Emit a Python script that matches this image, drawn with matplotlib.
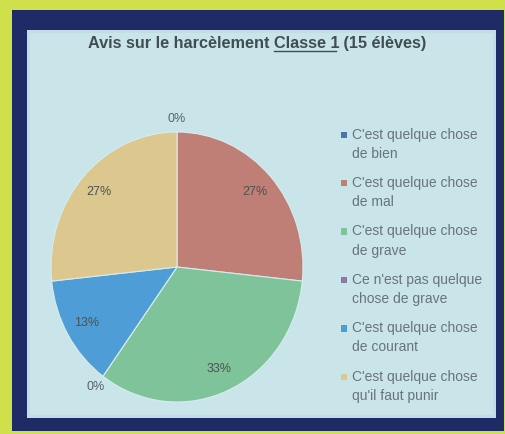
import matplotlib
matplotlib.use('Agg')
import matplotlib.pyplot as plt
from matplotlib.patches import Rectangle, Patch
from matplotlib.lines import Line2D
from matplotlib.legend_handler import HandlerPatch
import numpy as np

# ---- data ----
title_parts = ["Avis sur le harcèlement ", "Classe 1", " (15 élèves)"]
categories = [
    "C'est quelque chose\nde bien",
    "C'est quelque chose\nde mal",
    "C'est quelque chose\nde grave",
    "Ce n'est pas quelque\nchose de grave",
    "C'est quelque chose\nde courant",
    "C'est quelque chose\nqu'il faut punir",
]
counts = [0, 4, 5, 0, 2, 4]          # students (15 in total)
colors = ['#4a76ae', '#bf7f76', '#7fc39b', '#8a7aa8', '#4e9dd6', '#dcc88f']

FONT = 'Liberation Sans'
W, H = 505, 434
fig = plt.figure(figsize=(W / 100, H / 100), dpi=100)
fig.patch.set_facecolor('#cfe04a')

# screen frame (photo look)
fig.add_artist(Rectangle((12 / W, 1 - 431 / H), (504 - 12) / W, (431 - 10) / H,
                         transform=fig.transFigure, facecolor='#1f2b66',
                         edgecolor='none', zorder=0))
fig.add_artist(Rectangle((27 / W, 1 - 418 / H), (496 - 27) / W, (418 - 30) / H,
                         transform=fig.transFigure, facecolor='#c3dde6',
                         edgecolor='none', zorder=0))
fig.add_artist(Rectangle((30 / W, 1 - 415 / H), (493 - 30) / W, (415 - 33) / H,
                         transform=fig.transFigure, facecolor='#c9e5ea',
                         edgecolor='none', zorder=0))

# ---- pie ----
cx, cy, rx, ry = 177, 267, 126, 135
ax = fig.add_axes([(cx - rx) / W, 1 - (cy + ry) / H, 2 * rx / W, 2 * ry / H])
wedges, texts, autotexts = ax.pie(
    counts, colors=colors, startangle=90, counterclock=False,
    autopct='%.0f%%', pctdistance=0.83,
    wedgeprops=dict(edgecolor='#d6ecee', linewidth=0.8),
    textprops=dict(fontsize=9, color='#4a5253', family=FONT))
ax.set_aspect('auto')
ax.set_xlim(-1, 1)
ax.set_ylim(-1, 1)
ax.axis('off')
for w, t, c in zip(wedges, autotexts, counts):
    if c == 0:
        a = np.deg2rad(w.theta1)
        t.set_position((1.1 * np.cos(a), 1.1 * np.sin(a)))
        t.set_color('#56626b')

# ---- title (with underlined part) ----
renderer = fig.canvas.get_renderer()
target_w = 340
fs = 10
tkw = dict(fontsize=fs, color='#414d54', family=FONT, weight='bold', va='baseline', ha='left')
tmp = [fig.text(0, 0, p, **tkw) for p in title_parts]
widths = [t.get_window_extent(renderer).width for t in tmp]
for t in tmp:
    t.remove()
fs = fs * target_w / sum(widths)
tkw['fontsize'] = fs
tmp = [fig.text(0, 0, p, **tkw) for p in title_parts]
widths = [t.get_window_extent(renderer).width for t in tmp]
for t in tmp:
    t.remove()
x = 257 - sum(widths) / 2
ybase = 48
for p, wd in zip(title_parts, widths):
    fig.text(x / W, 1 - ybase / H, p, **tkw)
    if p == title_parts[1]:
        fig.add_artist(Line2D([x / W, (x + wd - 3) / W], [1 - (ybase + 3) / H] * 2,
                              transform=fig.transFigure, color='#414d54', lw=1))
    x += wd

# ---- legend ----
def square(legend, orig_handle, xdescent, ydescent, width, height, fontsize):
    s = 4.5
    return Rectangle((-xdescent + (width - s) / 2, -ydescent + height / 2 - s / 2 + 7.2), s, s)

handles = [Patch(facecolor=c) for c in colors]
leg = fig.legend(handles, categories, loc='upper left',
                 bbox_to_anchor=(327 / W, 1 - 115 / H), frameon=False,
                 prop=dict(family=FONT, size=10), handlelength=0.6,
                 handleheight=0.6, handletextpad=0.3, labelspacing=1.1,
                 handler_map={Patch: HandlerPatch(patch_func=square)})
for t in leg.get_texts():
    t.set_linespacing(1.47)
    t.set_color('#66757b')

fig.savefig('out.png', dpi=100, facecolor=fig.get_facecolor())
